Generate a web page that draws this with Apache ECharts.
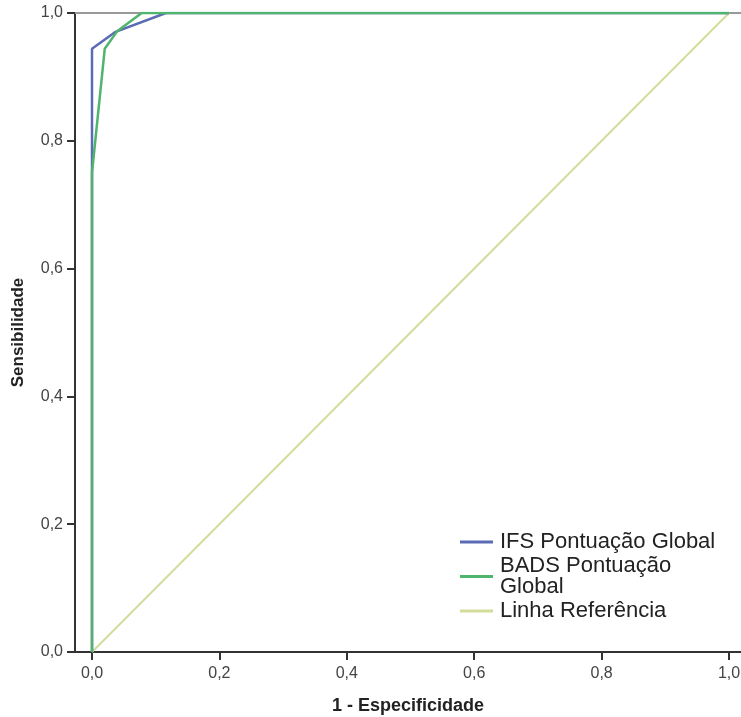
<!DOCTYPE html>
<html>
<head>
<meta charset="utf-8">
<script src="https://cdn.jsdelivr.net/npm/echarts@6/dist/echarts.min.js"></script>
<style>
  html, body { margin: 0; padding: 0; background: #fff; }
  #chart { width: 741px; height: 717px; }
</style>
</head>
<body>
<div id="chart"></div>
<script>
// ROC curves (1 - especificidade, sensibilidade)
const ifsX = [0, 0, 0.036, 0.116, 1];
const ifsY = [0, 0.944, 0.970, 1, 1];
const badsX = [0, 0, 0.02, 0.04, 0.078, 1];
const badsY = [0, 0.75, 0.944, 0.972, 1, 1];
const refX = [0, 1];
const refY = [0, 1];
const tickValues = [0, 0.2, 0.4, 0.6, 0.8, 1.0];

const pairs = (xs, ys) => xs.map((x, i) => [x, ys[i]]);
const fmt = v => v.toFixed(1).replace('.', ',');

const chart = echarts.init(document.getElementById('chart'), null, { renderer: 'canvas' });

const option = {
  animation: false,
  textStyle: { fontFamily: 'Liberation Sans, Arial, sans-serif' },
  grid: { left: 75, right: 0, top: 13, bottom: 65, outerBoundsMode: 'none', containLabel: false },
  legend: {
    left: 460,
    top: 531,
    padding: 0,
    orient: 'vertical',
    itemWidth: 33,
    itemHeight: 3,
    itemGap: 2,
    icon: 'rect',
    textStyle: { fontSize: 22, color: '#222', lineHeight: 21, padding: [0, 0, 0, 2] },
    formatter: name => name === 'BADS Pontuação Global' ? 'BADS Pontuação\nGlobal' : name,
    data: ['IFS Pontuação Global', 'BADS Pontuação Global', 'Linha Referência']
  },
  xAxis: [
    {
      type: 'value',
      min: -17 / 637,
      max: 1 + 12 / 637,
      name: '1 - Especificidade',
      nameLocation: 'middle',
      nameGap: 45,
      nameMoveOverlap: false,
      nameTextStyle: { fontSize: 18, fontWeight: 'bold', color: '#222' },
      axisLine: { show: true, onZero: false, lineStyle: { color: '#333', width: 2 } },
      axisTick: { show: true, length: 8, lineStyle: { color: '#333', width: 2 }, customValues: tickValues },
      axisLabel: { fontSize: 16, color: '#444', margin: 14, customValues: tickValues, formatter: fmt },
      splitLine: { show: false }
    },
    {
      type: 'value',
      position: 'top',
      min: 0,
      max: 1,
      axisLine: { show: true, onZero: false, lineStyle: { color: '#999', width: 2 } },
      axisTick: { show: false },
      axisLabel: { show: false },
      splitLine: { show: false }
    }
  ],
  yAxis: {
    type: 'value',
    min: 0,
    max: 1,
    interval: 0.2,
    name: 'Sensibilidade',
    nameLocation: 'middle',
    nameGap: 48,
    nameRotate: 90,
    nameMoveOverlap: false,
    nameTextStyle: { fontSize: 17, fontWeight: 'bold', color: '#222' },
    axisLine: { show: true, onZero: false, lineStyle: { color: '#333', width: 2 } },
    axisTick: { show: true, length: 8, lineStyle: { color: '#333', width: 2 } },
    axisLabel: { fontSize: 16, color: '#444', margin: 12, formatter: fmt },
    splitLine: { show: false }
  },
  series: [
    {
      name: 'Linha Referência',
      type: 'line',
      data: pairs(refX, refY),
      symbol: 'none',
      lineStyle: { color: '#d4dc9c', width: 2 },
      itemStyle: { color: '#d4dc9c' },
      z: 1
    },
    {
      name: 'IFS Pontuação Global',
      type: 'line',
      data: pairs(ifsX, ifsY),
      symbol: 'none',
      lineStyle: { color: '#5b6bb4', width: 2.5 },
      itemStyle: { color: '#5b6bb4' },
      z: 2
    },
    {
      name: 'BADS Pontuação Global',
      type: 'line',
      data: pairs(badsX, badsY),
      symbol: 'none',
      lineStyle: { color: '#4fb56c', width: 2.5 },
      itemStyle: { color: '#4fb56c' },
      z: 3
    }
  ]
};

chart.setOption(option);
window.addEventListener('resize', chart.resize);
</script>
</body>
</html>
